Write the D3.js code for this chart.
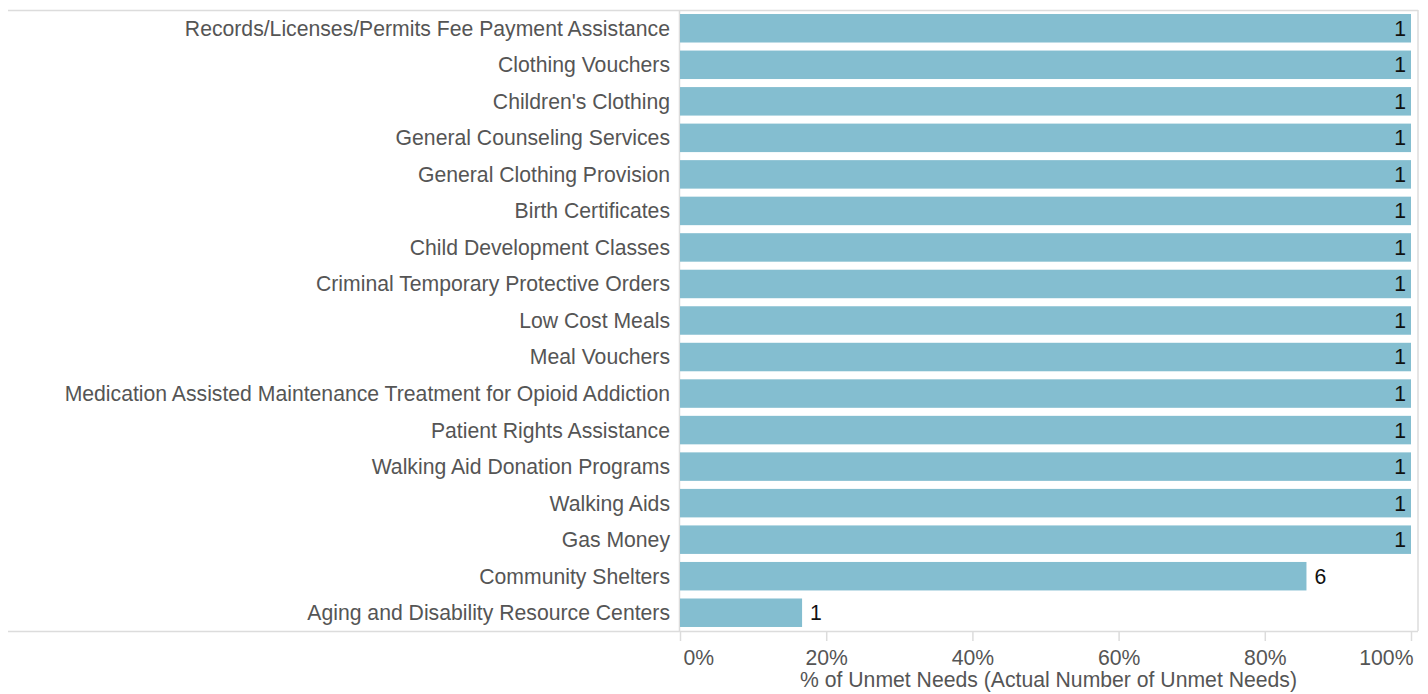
<!DOCTYPE html>
<html>
<head>
<meta charset="utf-8">
<title>Unmet Needs</title>
<script src="https://d3js.org/d3.v7.min.js"></script>
<style>
  body { margin: 0; background: #fff; }
  svg { display: block; font-family: "Liberation Sans", Arial, sans-serif; }
  .cat { font-size: 21.2px; fill: #555; }
  .tick text { font-size: 21.2px; fill: #555; }
  .val { font-size: 21.2px; fill: #111; }
</style>
</head>
<body>
<svg id="chart" width="1428" height="694"></svg>
<script>
// data
var categories = [
  "Records/Licenses/Permits Fee Payment Assistance",
  "Clothing Vouchers",
  "Children's Clothing",
  "General Counseling Services",
  "General Clothing Provision",
  "Birth Certificates",
  "Child Development Classes",
  "Criminal Temporary Protective Orders",
  "Low Cost Meals",
  "Meal Vouchers",
  "Medication Assisted Maintenance Treatment for Opioid Addiction",
  "Patient Rights Assistance",
  "Walking Aid Donation Programs",
  "Walking Aids",
  "Gas Money",
  "Community Shelters",
  "Aging and Disability Resource Centers"
];
var pctUnmet = [1, 1, 1, 1, 1, 1, 1, 1, 1, 1, 1, 1, 1, 1, 1, 0.857, 0.167];
var countUnmet = [1, 1, 1, 1, 1, 1, 1, 1, 1, 1, 1, 1, 1, 1, 1, 6, 1];
var xTicks = [0, 0.2, 0.4, 0.6, 0.8, 1];

var rows = categories.map(function (c, i) {
  return { name: c, pct: pctUnmet[i], n: countUnmet[i] };
});

var svg = d3.select("#chart");
var plotL = 680, plotR = 1411, plotT = 10, plotB = 631;
var frameL = 8, frameR = 1418;

var x = d3.scaleLinear().domain([0, 1]).range([plotL, plotR]);
var y = d3.scaleBand().domain(categories).range([plotT, plotB])
  .paddingInner(0.22).paddingOuter(0.11);

// frame lines
var lineColor = "#dcdcdc";
svg.append("line").attr("x1", frameL).attr("x2", frameR)
  .attr("y1", plotT + 0.5).attr("y2", plotT + 0.5)
  .attr("stroke", lineColor).attr("stroke-width", 1.5);
svg.append("line").attr("x1", frameL).attr("x2", frameR)
  .attr("y1", plotB + 0.5).attr("y2", plotB + 0.5)
  .attr("stroke", lineColor).attr("stroke-width", 1.5);
svg.append("line").attr("x1", frameR).attr("x2", frameR)
  .attr("y1", plotT).attr("y2", plotB)
  .attr("stroke", lineColor).attr("stroke-width", 1.5);
svg.append("line").attr("x1", plotL - 0.5).attr("x2", plotL - 0.5)
  .attr("y1", plotT).attr("y2", plotB)
  .attr("stroke", lineColor).attr("stroke-width", 1.5);

// bars
svg.selectAll("rect.bar").data(rows).enter().append("rect")
  .attr("class", "bar")
  .attr("x", x(0))
  .attr("y", function (d) { return y(d.name); })
  .attr("width", function (d) { return x(d.pct) - x(0); })
  .attr("height", y.bandwidth())
  .attr("fill", "#84bed0");

// category labels
svg.selectAll("text.cat").data(rows).enter().append("text")
  .attr("class", "cat")
  .attr("x", plotL - 10)
  .attr("y", function (d) { return y(d.name) + y.bandwidth() / 2; })
  .attr("dy", "0.35em")
  .attr("text-anchor", "end")
  .text(function (d) { return d.name; });

// value labels
svg.selectAll("text.val").data(rows).enter().append("text")
  .attr("class", "val")
  .attr("x", function (d) { return d.pct > 0.95 ? x(d.pct) - 5 : x(d.pct) + 8; })
  .attr("y", function (d) { return y(d.name) + y.bandwidth() / 2; })
  .attr("dy", "0.35em")
  .attr("text-anchor", function (d) { return d.pct > 0.95 ? "end" : "start"; })
  .text(function (d) { return d.n; });

// x axis
var axis = svg.append("g")
  .attr("transform", "translate(0," + (plotB + 1) + ")")
  .call(d3.axisBottom(x).tickValues(xTicks).tickFormat(d3.format(".0%"))
    .tickSize(9).tickPadding(9));
axis.select(".domain").remove();
axis.selectAll(".tick line").attr("stroke", lineColor).attr("stroke-width", 1.5);
axis.selectAll(".tick text").attr("font-family", null).attr("font-size", null);
// end labels hug their ticks so they stay inside the frame
axis.selectAll(".tick text").filter(function (d) { return d === 0; })
  .attr("text-anchor", "start").attr("dx", 3);
axis.selectAll(".tick text").filter(function (d) { return d === 1; })
  .attr("text-anchor", "end").attr("dx", 2);

svg.append("text")
  .attr("x", (plotL + plotR) / 2 + 3)
  .attr("y", 687)
  .attr("text-anchor", "middle")
  .attr("class", "cat")
  .text("% of Unmet Needs (Actual Number of Unmet Needs)");
</script>
</body>
</html>
